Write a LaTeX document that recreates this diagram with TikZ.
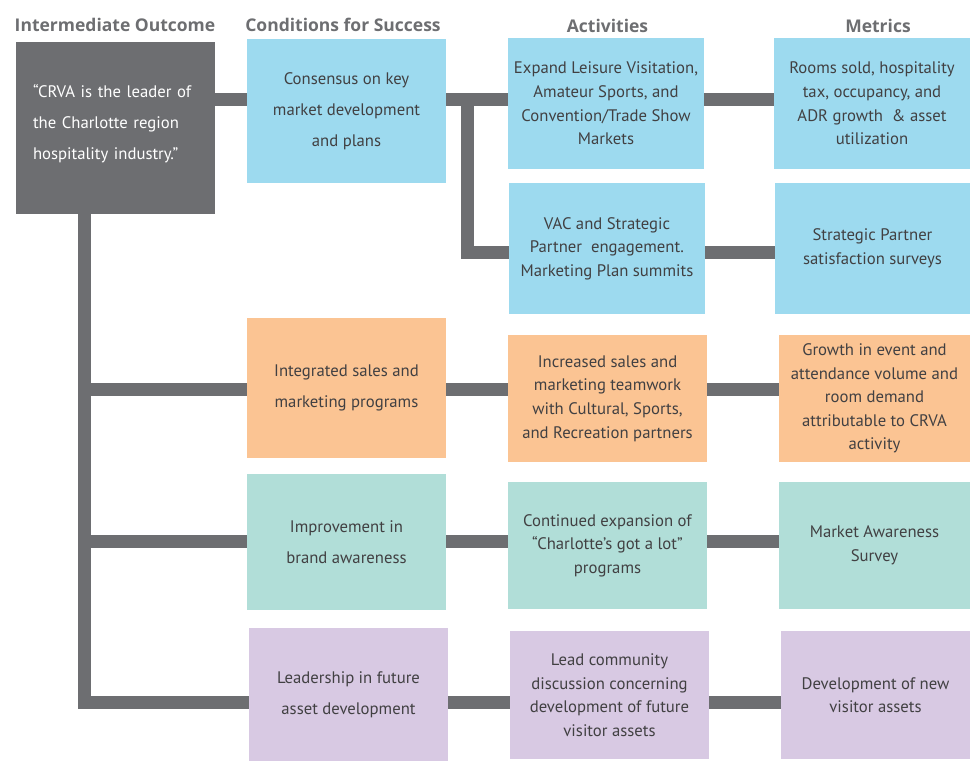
\documentclass[tikz,border=0pt]{standalone}
\usepackage{fontspec}
\setmainfont{PT Sans}
\newfontfamily\hdrfont{Open Sans}
\definecolor{cgray}{HTML}{6D6E71}
\definecolor{cblue}{HTML}{9DDAEF}
\definecolor{corange}{HTML}{FBC493}
\definecolor{cteal}{HTML}{B1DED8}
\definecolor{cpurple}{HTML}{D8C9E3}
\definecolor{ctext}{HTML}{414042}
\tikzset{
  bx/.style={draw=none, inner sep=0pt, align=center, text=ctext,
    font=\fontsize{16.7}{23.6}\selectfont},
  wide/.style={font=\fontsize{16.7}{31}\selectfont},
  hdr/.style={text=cgray, font=\hdrfont\fontsize{17.5}{20}\selectfont\bfseries, inner sep=0pt},
  conn/.style={draw=cgray, line width=13pt, line cap=butt, line join=miter}
}
\begin{document}
\begin{tikzpicture}[x=1pt,y=-1pt]
\useasboundingbox (0,0) rectangle (970,761);
% headers
\node[hdr] (h1) at (115,25) {Intermediate Outcome};
\node[hdr] (h2) at (343,25) {Conditions for Success};
\node[hdr] (h3) at (607.5,26) {Activities};
\node[hdr] (h4) at (878,26) {Metrics};
% coordinates for connector levels
\coordinate (r0) at (0,99);
\coordinate (r1) at (0,99.5);
\coordinate (r2) at (0,252);
\coordinate (r3) at (0,389.5);
\coordinate (r4) at (0,541.5);
\coordinate (r5) at (0,702.5);
\coordinate (tx) at (84.5,0);
\coordinate (vx) at (467.5,93);
% boxes
\node[bx, wide, fill=cgray, text=white, minimum width=199pt, minimum height=172pt, text width=165pt, align=left] (gray) at (115.5,128)
  {“CRVA is the leader of\\the Charlotte region\\hospitality industry.”\\[-19pt]\mbox{}};
\node[bx, wide, fill=cblue, minimum width=199pt, minimum height=144pt] (cons) at (346.5,111)
  {Consensus on key\\market development\\and plans};
\node[bx, fill=cblue, minimum width=196pt, minimum height=131pt] (exp) at (606,103.5)
  {Expand Leisure Visitation,\\Amateur Sports, and\\Convention/Trade Show\\Markets};
\node[bx, fill=cblue, minimum width=196pt, minimum height=131pt] (rooms) at (872,103.5)
  {Rooms sold, hospitality\\tax, occupancy, and\\ADR growth \ \& asset\\utilization};
\node[bx, fill=cblue, minimum width=196pt, minimum height=131pt] (vac) at (607,248.5)
  {VAC and Strategic\\Partner \ engagement.\\Marketing Plan summits};
\node[bx, fill=cblue, minimum width=195pt, minimum height=131pt] (sp) at (872.5,248.5)
  {Strategic Partner\\satisfaction surveys};
\node[bx, wide, fill=corange, minimum width=199pt, minimum height=140pt] (integ) at (346.5,388)
  {Integrated sales and\\marketing programs};
\node[bx, fill=corange, minimum width=199pt, minimum height=127pt] (incr) at (607.5,398.5)
  {Increased sales and\\marketing teamwork\\with Cultural, Sports,\\and Recreation partners};
\node[bx, fill=corange, minimum width=191pt, minimum height=127pt] (growth) at (874.5,398.5)
  {Growth in event and\\attendance volume and\\room demand\\attributable to CRVA\\activity};
\node[bx, wide, fill=cteal, minimum width=199pt, minimum height=136pt] (impr) at (346.5,542)
  {Improvement in\\brand awareness};
\node[bx, fill=cteal, minimum width=199pt, minimum height=127pt] (cont) at (607.5,545.5)
  {Continued expansion of\\“Charlotte’s got a lot”\\programs};
\node[bx, fill=cteal, minimum width=191pt, minimum height=127pt] (mkt) at (874.5,545.5)
  {Market Awareness\\Survey};
\node[bx, wide, fill=cpurple, minimum width=199pt, minimum height=133pt] (lead) at (348.5,694.5)
  {Leadership in future\\asset development};
\node[bx, fill=cpurple, minimum width=199pt, minimum height=128pt] (lcd) at (609.5,695)
  {Lead community\\discussion concerning\\development of future\\visitor assets};
\node[bx, fill=cpurple, minimum width=189pt, minimum height=128pt] (dev) at (875.5,695)
  {Development of new\\visitor assets};
% connectors
\draw[conn] (gray.east |- r0) -- (cons.west |- r0);
\draw[conn] (cons.east |- r1) -- (exp.west |- r1);
\draw[conn] (vac.west |- r2) -| (vx);
\draw[conn] (exp.east |- r1) -- (rooms.west |- r1);
\draw[conn] (vac.east |- r2) -- (sp.west |- r2);
\draw[conn] (gray.south -| tx) |- (lead.west |- r5);
\draw[conn] (tx |- r3) -- (integ.west |- r3);
\draw[conn] (tx |- r4) -- (impr.west |- r4);
\draw[conn] (integ.east |- r3) -- (incr.west |- r3);
\draw[conn] (incr.east |- r3) -- (growth.west |- r3);
\draw[conn] (impr.east |- r4) -- (cont.west |- r4);
\draw[conn] (cont.east |- r4) -- (mkt.west |- r4);
\draw[conn] (lead.east |- r5) -- (lcd.west |- r5);
\draw[conn] (lcd.east |- r5) -- (dev.west |- r5);
\end{tikzpicture}
\end{document}
